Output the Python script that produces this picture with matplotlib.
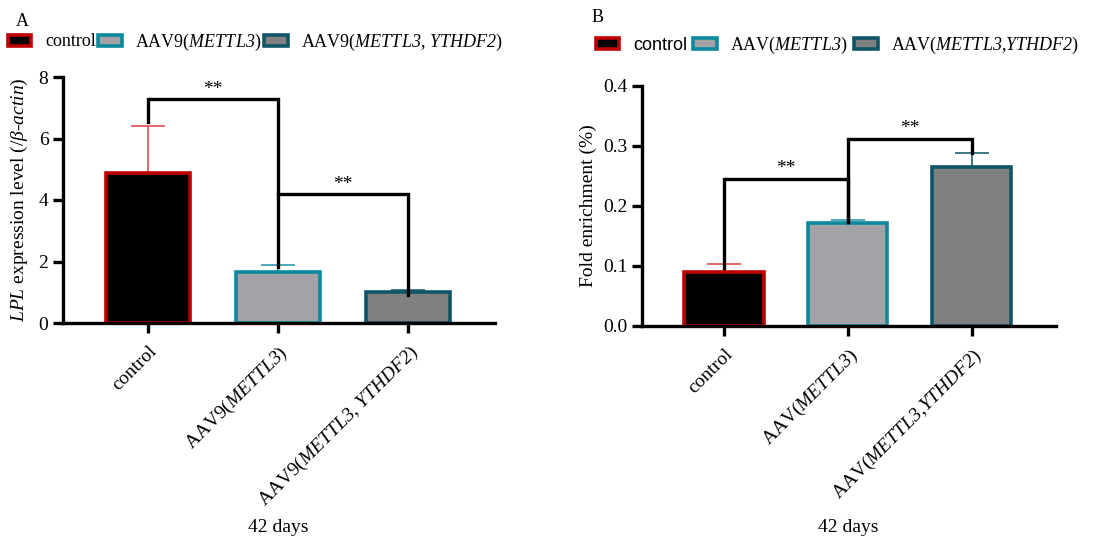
import matplotlib
matplotlib.use("Agg")
import matplotlib.pyplot as plt
from matplotlib.patches import Patch

plt.rcParams['font.family'] = ['Liberation Serif', 'DejaVu Serif']
plt.rcParams['mathtext.fontset'] = 'custom'
# everything inside $...$ is a gene name or greek letter, so make it all italic
plt.rcParams['mathtext.rm'] = 'Liberation Serif:italic'
plt.rcParams['mathtext.it'] = 'Liberation Serif:italic'
plt.rcParams['mathtext.bf'] = 'Liberation Serif:bold'

# data
labels_a = ['control', 'AAV9($\\mathit{METTL3}$)', 'AAV9($\\mathit{METTL3}$, $\\mathit{YTHDF2}$)']
lpl = [4.88, 1.67, 1.01]
lpl_err = [1.54, 0.21, 0.05]
# (left, right, top, left end, right end)
brackets_a = [(0, 1, 7.28, 6.55, 1.83), (1, 2, 4.18, 4.18, 0.91)]

labels_b = ['control', 'AAV($\\mathit{METTL3}$)', 'AAV($\\mathit{METTL3}$,$\\mathit{YTHDF2}$)']
fold = [0.0905, 0.171, 0.265]
fold_err = [0.013, 0.006, 0.023]
brackets_b = [(0, 1, 0.245, 0.097, 0.173), (1, 2, 0.312, 0.173, 0.288)]

fills = ['#000000', '#a3a3a7', '#808080']
edges = ['#c00000', '#0b8a9e', '#0f5568']
err_cols = ['#e05a5a', '#3fa3b3', '#2f7080']

fig = plt.figure(figsize=(11.05, 5.48), dpi=100)
ax_a = fig.add_axes([63 / 1105, 1 - 323 / 548, (495 - 63) / 1105, 246 / 548])
ax_b = fig.add_axes([642 / 1105, 1 - 326 / 548, (1056 - 642) / 1105, 240 / 548])


def draw_panel(ax, vals, errs, labels, brackets, ylim, yticks, xlim, star_off):
    x = range(len(vals))
    for i in x:
        ax.errorbar(i, vals[i], yerr=[[0], [errs[i]]], fmt='none', ecolor=err_cols[i],
                    elinewidth=1.3, capsize=12, capthick=1.3, zorder=1)
    ax.bar(x, vals, width=0.64, color=fills, edgecolor=edges, linewidth=2.6, zorder=2)
    for l, r, top, yl, yr in brackets:
        ax.plot([l, l, r, r], [yl, top, top, yr], color='black', lw=2.4,
                solid_joinstyle='miter', zorder=3)
        ax.text((l + r) / 2, top + star_off, '**', ha='center', va='bottom', fontsize=14)
    ax.set_xlim(*xlim)
    ax.set_ylim(*ylim)
    ax.set_yticks(yticks)
    ax.set_xticks(list(x))
    ax.set_xticklabels(labels, rotation=45, ha='right', va='top', rotation_mode='anchor',
                       fontsize=14)
    for s in ['top', 'right']:
        ax.spines[s].set_visible(False)
    for s in ['left', 'bottom']:
        ax.spines[s].set_linewidth(2.4)
    ax.tick_params(direction='out', length=7, width=2.4, labelsize=14)
    ax.tick_params(axis='x', pad=7)


draw_panel(ax_a, lpl, lpl_err, labels_a, brackets_a, (0, 8), [0, 2, 4, 6, 8],
           (-0.654, 2.67), 0.05)
ax_a.set_ylabel('$LPL$ expression level (/$\\beta$-$actin$)', fontsize=14)
ax_a.yaxis.set_label_coords(-0.076, 0.5)

draw_panel(ax_b, fold, fold_err, labels_b, brackets_b, (0, 0.4), [0.0, 0.1, 0.2, 0.3, 0.4],
           (-0.661, 2.68), 0.003)
ax_b.set_yticklabels(['0.0', '0.1', '0.2', '0.3', '0.4'])
ax_b.set_ylabel('Fold enrichment (%)', fontsize=14)
ax_b.yaxis.set_label_coords(-0.108, 0.5)

fig.text(278 / 1105, 1 - 528 / 548, '42 days', ha='center', va='center', fontsize=14)
fig.text(848 / 1105, 1 - 527 / 548, '42 days', ha='center', va='center', fontsize=14)
fig.text(22 / 1105, 1 - 22 / 548, 'A', ha='center', va='center', fontsize=13)
fig.text(598 / 1105, 1 - 17 / 548, 'B', ha='center', va='center', fontsize=13)

handles = [Patch(facecolor=fills[i], edgecolor=edges[i], linewidth=2.6) for i in range(3)]
leg_a = fig.legend(handles, labels_a, loc='center left', bbox_to_anchor=(8 / 1105, 1 - 42 / 548),
                   ncol=3, frameon=False, fontsize=13, handlelength=1.3, handleheight=0.55,
                   handletextpad=0.75, columnspacing=0.15, borderpad=0, borderaxespad=0)
leg_b = fig.legend(handles, labels_b, loc='center left', bbox_to_anchor=(596 / 1105, 1 - 45 / 548),
                   ncol=3, frameon=False, fontsize=13, handlelength=1.3, handleheight=0.55,
                   handletextpad=0.75, columnspacing=0.35, borderpad=0, borderaxespad=0)
leg_b.get_texts()[0].set_fontfamily('Liberation Sans')

fig.savefig('out.png', dpi=100)
